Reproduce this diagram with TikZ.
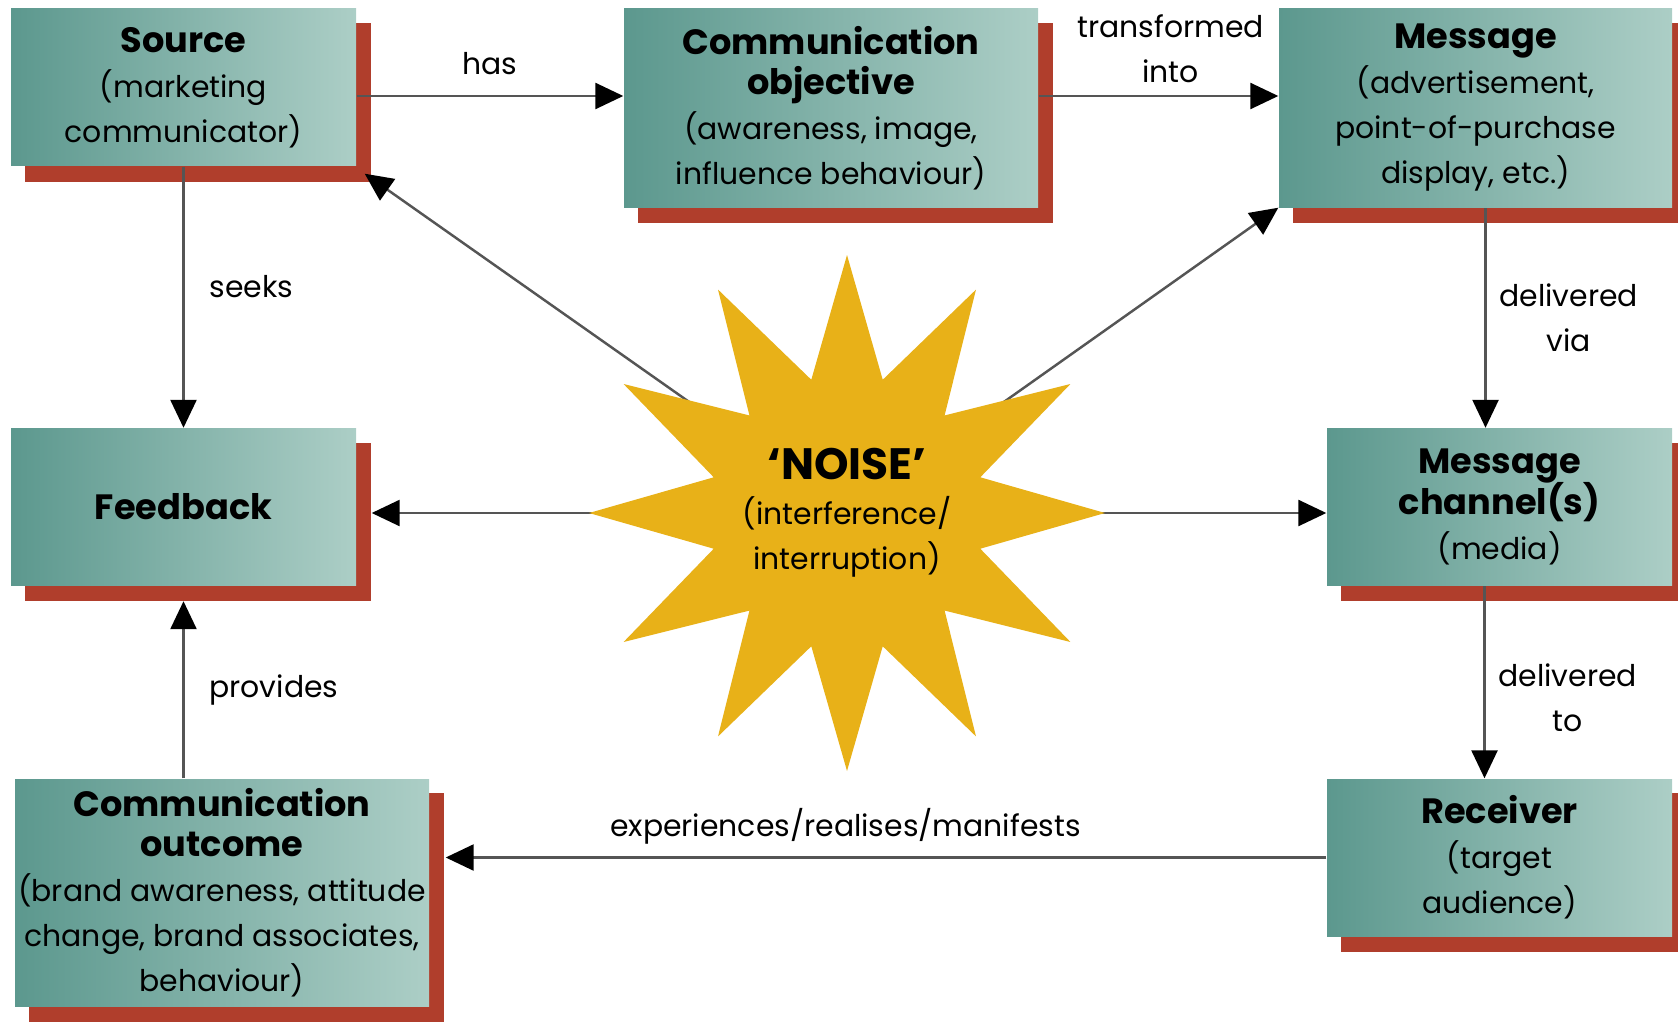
\documentclass[tikz,border=0pt]{standalone}
\usepackage{fontspec}
\setmainfont{Poppins}
\usetikzlibrary{shapes.geometric,arrows.meta,backgrounds,positioning}
\definecolor{tealdark}{RGB}{92,152,142}
\definecolor{teallight}{RGB}{172,206,198}
\definecolor{shadowred}{RGB}{176,62,44}
\definecolor{noiseyellow}{RGB}{232,177,24}
\definecolor{linegrey}{RGB}{85,85,85}
\newcommand{\boxhead}[1]{{\fontsize{10}{11}\selectfont\bfseries #1}}
\tikzset{
    %Define standard arrow tip
    >={Triangle[length=2.8mm,width=2.6mm,color=black]},
    %Define style for boxes
    box/.style={
           rectangle,
           left color=tealdark, right color=teallight,
           minimum height=1.57cm,
           minimum width=3.45cm,
           inner sep=0pt,
           align=center,
           font=\fontsize{8.5}{12.8}\selectfont},
    widebox/.style={
           box,
           minimum height=1.98cm,
           minimum width=4.14cm},
    burst/.style={
           star, star points=12, star point ratio=1.87,
           minimum size=5.16cm,
           fill=noiseyellow,
           inner sep=0pt},
    % Define arrow style
    pil/.style={
           ->,
           draw=linegrey,
           line width=0.7pt},
    lbl/.style={
           font=\fontsize{8.5}{12.8}\selectfont,
           align=center}
}

\begin{document}
\begin{tikzpicture}
\useasboundingbox (0,0) rectangle (16.78,10.21);

\node[box] (source) at (1.835,9.335) {\boxhead{Source}\\(marketing\\communicator)};
\node[widebox] (objective) at (8.31,9.13) {\boxhead{Communication}\\[-1.5pt]\boxhead{objective}\\(awareness, image,\\influence behaviour)};
\node[widebox, minimum width=3.93cm] (message) at (14.755,9.13) {\boxhead{Message}\\(advertisement,\\point-of-purchase\\display, etc.)};

\node[box] (feedback) at (1.835,5.14) {\boxhead{Feedback}};
\node[box] (channel) at (14.995,5.14) {\boxhead{Message}\\[-1pt]\boxhead{channel(s)}\\(media)};

\node[widebox, minimum height=2.27cm] (outcome) at (2.22,1.285) {\boxhead{Communication}\\[-1.5pt]\boxhead{outcome}\\(brand awareness, attitude\\change, brand associates,\\behaviour)};
\node[box] (receiver) at (14.995,1.635) {\boxhead{Receiver}\\(target\\audience)};

\node[burst] (noise) at (8.47,5.08) {};
\node[lbl] (noisetext) at (noise.center) {{\fontsize{12.5}{13}\selectfont\bfseries ‘NOISE’}\\(interference/\\interruption)};

\begin{scope}[on background layer]
% shadows
\foreach \n in {source,objective,message,feedback,channel,outcome,receiver}
    \fill[shadowred] ([shift={(1.45mm,-1.5mm)}]\n.south west) rectangle ([shift={(1.45mm,-1.5mm)}]\n.north east);

\draw ([yshift=-0.85mm]source.east) edge[pil] node[lbl, above=0.8mm] {has} ([yshift=-0.85mm]source.east -| objective.west);
\draw ([yshift=1.2mm]objective.east) edge[pil] node[lbl, above=0mm, pos=0.55] {transformed\\into} ([yshift=1.2mm]objective.east -| message.west);

\draw (source.south) edge[pil] node[lbl, right=1.3mm, pos=0.46] {seeks} (feedback.north);
\draw (outcome.north -| feedback.south) edge[pil] node[lbl, right=1.3mm] {provides} ([yshift=-1.5mm]feedback.south);

\draw ([xshift=1mm]message.south) edge[pil] node[lbl, right=0.1mm] {delivered\\via} ([xshift=1mm]message.south |- channel.north);
\draw ([xshift=-1.5mm]channel.south) edge[pil] node[lbl, right=0.1mm, pos=0.58] {delivered\\to} ([xshift=-1.5mm]receiver.north);

\draw (receiver.west) edge[pil] node[lbl, above=0mm, pos=0.546] {experiences/realises/manifests} ([xshift=1.6mm]receiver.west -| outcome.east);

\draw (noise.center) edge[pil] ([xshift=1.5mm]noise.center -| feedback.east);
\draw (noise.center) edge[pil] (noise.center -| channel.west);
\draw (noise.center) edge[pil] ([shift={(0.8mm,-0.7mm)}]source.south east);
\draw (noise.center) edge[pil] (message.south west);
\end{scope}

\end{tikzpicture}
\end{document}
